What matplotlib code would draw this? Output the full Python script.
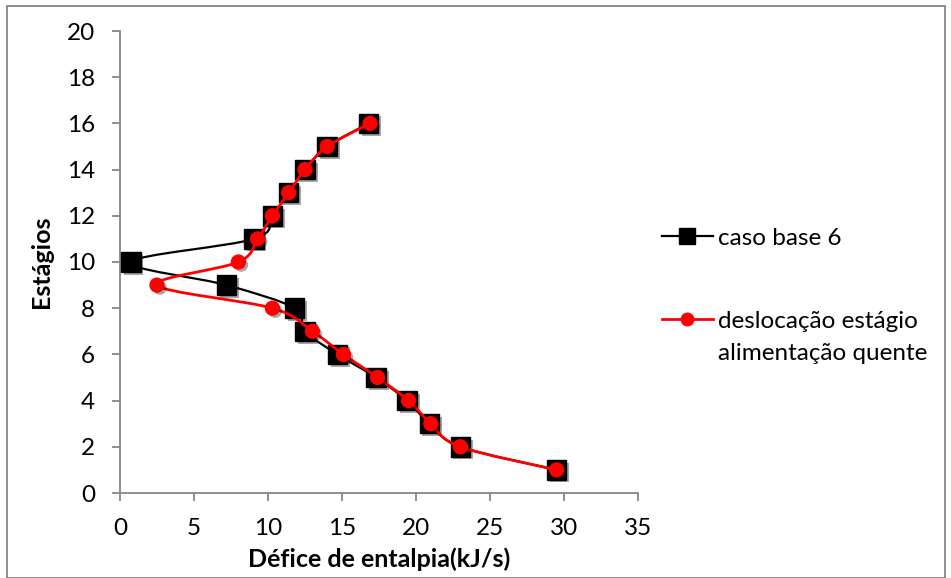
import numpy as np
import matplotlib.pyplot as plt
from matplotlib.path import Path
from matplotlib.patches import PathPatch, Rectangle
from matplotlib.lines import Line2D
import matplotlib.patheffects as pe

plt.rcParams['font.family'] = ['Lato', 'DejaVu Sans']

estagios = [16, 15, 14, 13, 12, 11, 10, 9, 8, 7, 6, 5, 4, 3, 2, 1]
caso_base = [16.8, 14.0, 12.5, 11.4, 10.3, 9.05, 0.74, 7.2, 11.8, 12.5, 14.7, 17.3, 19.4, 20.9, 23.0, 29.5]
deslocacao = [16.9, 14.0, 12.5, 11.4, 10.3, 9.3, 8.0, 2.5, 10.3, 13.0, 15.1, 17.4, 19.5, 21.0, 23.0, 29.5]


def smooth_path(x, y):
    # curva suave tipo Excel (Bezier cubica com tangentes de Catmull-Rom)
    p = np.column_stack([x, y]).astype(float)
    verts = [p[0]]
    codes = [Path.MOVETO]
    n = len(p)
    for i in range(n - 1):
        p0 = p[i - 1] if i > 0 else p[i]
        p1 = p[i]
        p2 = p[i + 1]
        p3 = p[i + 2] if i + 2 < n else p[i + 1]
        c1 = p1 + (p2 - p0) / 6.0
        c2 = p2 - (p3 - p1) / 6.0
        verts += [c1, c2, p2]
        codes += [Path.CURVE4] * 3
    return Path(verts, codes)


fig = plt.figure(figsize=(9.51, 5.78), dpi=100)
ax = fig.add_axes([120 / 951, 1 - 493 / 578, 518 / 951, 462 / 578])

sombra = [pe.SimplePatchShadow(offset=(2, -2), shadow_rgbFace='k', alpha=0.35), pe.Normal()]

ax.add_patch(PathPatch(smooth_path(caso_base, estagios), fill=False, edgecolor='black', lw=1.6, zorder=2))
ax.plot(caso_base, estagios, ls='none', marker='s', ms=14, color='black', zorder=3, path_effects=sombra)
ax.add_patch(PathPatch(smooth_path(deslocacao, estagios), fill=False, edgecolor='#ff0000', lw=2.0, zorder=4))
ax.plot(deslocacao, estagios, ls='none', marker='o', ms=10, color='#ff0000', zorder=5, path_effects=sombra)

ax.set_xlim(0, 35)
ax.set_ylim(0, 20)
ax.set_xticks(np.arange(0, 36, 5))
ax.set_yticks(np.arange(0, 21, 2))
for s in ['top', 'right']:
    ax.spines[s].set_visible(False)
for s in ['left', 'bottom']:
    ax.spines[s].set_color('#868686')
    ax.spines[s].set_linewidth(1.3)
ax.tick_params(direction='out', length=6, width=1.3, color='#868686', labelsize=17.5)
ax.tick_params(axis='x', pad=12)
ax.tick_params(axis='y', pad=12)
ax.set_xlabel('Défice de entalpia(kJ/s)', fontsize=18, fontweight='bold', labelpad=6)
ax.set_ylabel('Estágios', fontsize=18, fontweight='bold', labelpad=10)

handles = [
    Line2D([], [], color='black', lw=1.6, marker='s', ms=11),
    Line2D([], [], color='#ff0000', lw=2.0, marker='o', ms=9),
]
leg = fig.legend(handles, ['caso base 6', 'deslocação estágio'],
                 loc='upper left', bbox_to_anchor=(652 / 951, 1 - 218 / 578), frameon=False,
                 fontsize=17.5, handlelength=2.1, handletextpad=0.2, labelspacing=2.55,
                 borderaxespad=0)

# segunda linha do rotulo vermelho, alinhada com o texto da legenda
fig.canvas.draw()
bb = leg.get_texts()[1].get_window_extent()
fig.text(bb.x0 / 951, (bb.y0 - 32) / 578, 'alimentação quente', fontsize=17.5, va='bottom', ha='left')

fig.patches.append(Rectangle((7 / 951, 0), 938 / 951, 1 - 6 / 578, transform=fig.transFigure,
                             fill=False, edgecolor='#868686', lw=1.3))

fig.savefig('out.png', dpi=100)
